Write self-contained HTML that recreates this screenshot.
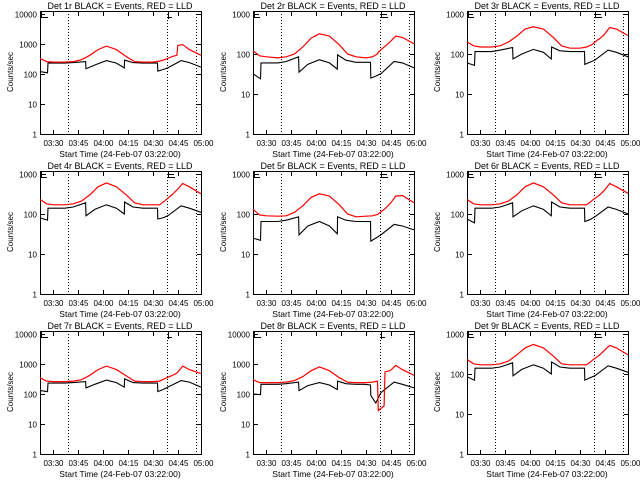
<!DOCTYPE html>
<html><head><meta charset="utf-8">
<style>
html,body{margin:0;padding:0;background:#fff;}
svg{display:block;font-family:"Liberation Sans",sans-serif;}
</style></head>
<body>
<svg id="chart" width="640" height="480" viewBox="0 0 640 480" xmlns="http://www.w3.org/2000/svg">
<rect width="640" height="480" fill="#fff"/>
</svg>
<script>
// minutes since 03:22:00
const redTimes   = [0,4,8,15,20,25,30,35,40,46,52,57,62,68,72,75,75.5,79,79.5,82.5,83,86,90,97];
const blackTimes = [0,4.5,4.8,10,15,20,27.5,27.7,33,40,46,50.8,51,56,62,67,70.8,71,74,77,85,90,97];
const detNames = ["1r","2r","3r","4r","5r","6r","7r","8r","9r"];
const yDecades = [4,3,3,3,3,3,4,4,3];
const red1 = [330,260,250,250,260,300,420,650,850,650,380,260,250,250,270,300,310,370,380,420,900,950,650,420];
const red2 = [120,90,85,80,85,100,150,250,320,280,170,100,85,80,85,100,110,150,155,200,210,280,260,180];
const red3 = [200,160,150,150,160,200,280,420,480,420,260,160,140,140,150,170,175,230,235,300,320,460,420,290];
const red4 = [230,180,170,170,180,210,300,480,600,480,300,190,170,170,170,210,220,290,300,400,420,580,480,320];
const red5 = [130,95,90,88,90,110,160,260,320,280,170,100,85,88,90,98,100,130,135,180,190,280,290,190];
const red6 = [230,180,170,170,180,210,300,480,600,480,300,190,170,170,170,210,220,280,290,380,400,580,480,330];
const red7 = [350,270,260,260,270,300,420,650,850,650,400,270,260,260,270,320,330,400,410,500,540,850,650,480];
const red8 = [300,240,240,240,250,280,380,600,800,600,350,250,240,240,250,270,28,40,550,600,620,900,650,420];
const red9 = [230,180,170,170,180,210,300,450,550,450,280,180,170,170,170,210,220,280,290,380,400,520,450,300];
const black1 = [120,110,230,230,230,240,260,150,200,280,230,160,290,240,230,230,230,125,140,160,280,240,170];
const black2 = [32,24,60,60,60,65,85,35,55,72,60,42,95,70,62,62,62,25,28,32,65,60,45];
const black3 = [60,52,115,115,115,125,145,75,100,130,110,75,150,120,115,115,115,55,62,70,125,110,85];
const black4 = [80,70,140,140,140,150,190,90,130,170,140,100,200,150,140,140,140,75,80,90,160,140,110];
const black5 = [25,22,65,65,65,70,85,30,50,65,50,32,85,70,65,65,65,21,25,30,55,50,40];
const black6 = [75,60,140,140,140,150,190,85,120,160,130,90,200,150,140,140,140,65,72,85,150,130,100];
const black7 = [130,120,230,230,230,240,260,160,210,290,240,170,320,240,230,230,230,120,140,170,280,250,170];
const black8 = [100,95,210,210,210,220,250,130,190,240,200,140,270,220,210,210,200,90,50,110,250,210,160];
const black9 = [85,70,140,140,140,150,190,90,130,170,140,100,200,150,140,140,140,70,80,90,160,140,110];
const redSeries = [red1,red2,red3,red4,red5,red6,red7,red8,red9];
const blackSeries = [black1,black2,black3,black4,black5,black6,black7,black8,black9];
const xTickMinutes = [8,23,38,53,68,83,98];
const xTickLabels = ["03:30","03:45","04:00","04:15","04:30","04:45","05:00"];
const dottedMinutes = [16.9,76.5,94];

const NS="http://www.w3.org/2000/svg";
const svg=document.getElementById('chart');
function mk(tag,attrs,parent){const e=document.createElementNS(NS,tag);for(const k in attrs)e.setAttribute(k,attrs[k]);parent.appendChild(e);return e;}
const L=40,R=201,T=11,B=134;
function xScale(t){return L+t*(R-L)/97;}
for(let p=0;p<9;p++){
  const col=p%3,row=Math.floor(p/3);
  const ox=[0,213,427][col],oy=row*160;
  const g=mk('g',{transform:`translate(${ox},${oy})`},svg);
  
  
  const dec=yDecades[p];
  const per=(B-14)/dec;
  const yScale=v=>B-Math.log10(v)*per;
  const ti=mk('text',{x:120,y:9,'text-anchor':'middle','font-size':'9'},g);
  ti.textContent='Det '+detNames[p]+' BLACK = Events, RED = LLD';
  
  
  const fr=mk('rect',{x:L+0.5,y:T+0.5,width:R-L,height:B-T,fill:'none',stroke:'#000','stroke-width':1},g);
  
  
  for(let d=0;d<=dec;d++){
    const y=Math.round(yScale(Math.pow(10,d)))+0.5;
    mk('line',{x1:L,x2:L+5,y1:y,y2:y,stroke:'#000'},g);
    mk('line',{x1:R-4,x2:R+1,y1:y,y2:y,stroke:'#000'},g);
    const tl=mk('text',{x:37,y:y+3,'text-anchor':'end','font-size':'8'},g);
    tl.textContent=String(Math.pow(10,d));
    
    
  }
  for(let i=0;i<xTickMinutes.length;i++){
    const x=Math.round(xScale(xTickMinutes[i]))+0.5;
    if(x<R){
      mk('line',{x1:x,x2:x,y1:B+1,y2:B-4,stroke:'#000'},g);
      mk('line',{x1:x,x2:x,y1:T,y2:T+5,stroke:'#000'},g);
    }
    const xl=mk('text',{x:x,y:146,'text-anchor':'middle','font-size':'8'},g);
    xl.textContent=xTickLabels[i];
    
    
  }
  for(const m of dottedMinutes){
    const x=Math.round(xScale(m))+0.5;
    const dl=mk('line',{x1:x,x2:x,y1:T,y2:B,stroke:'#000','stroke-dasharray':'1,2'},g);
    
    
  }
  const bm=mk('path',{d:dec===4?'M41.5,11 V17.5 H48 M168.5,19 V17.5 H172 M168.5,17.5 V11.5 H176':'M47,11.5 H41.5 V17.5 H47 M41.5,14.5 H46 M175,11.5 H168.5 V17.5 H175 M168.5,14.5 H174',fill:'none',stroke:'#000'},g);
  
  
  const rv=redSeries[p],bv=blackSeries[p];
  const rp=rv.map((v,i)=>xScale(redTimes[i]).toFixed(1)+','+yScale(v).toFixed(1)).join(' ');
  const bp=bv.map((v,i)=>xScale(blackTimes[i]).toFixed(1)+','+yScale(v).toFixed(1)).join(' ');
  const bl=mk('polyline',{points:bp,fill:'none',stroke:'#000','stroke-width':1.1},g);
  
  
  const rl=mk('polyline',{points:rp,fill:'none',stroke:'#ff0000','stroke-width':1.2},g);
  
  
  const xt=mk('text',{x:120,y:157,'text-anchor':'middle','font-size':'8.5'},g);
  xt.textContent='Start Time (24-Feb-07 03:22:00)';
  
  
  const yt=mk('text',{x:0,y:0,'text-anchor':'middle','font-size':'8',transform:'translate(13,72) rotate(-90)'},g);
  yt.textContent='Counts/sec';
  
  
}
</script>
</body></html>
